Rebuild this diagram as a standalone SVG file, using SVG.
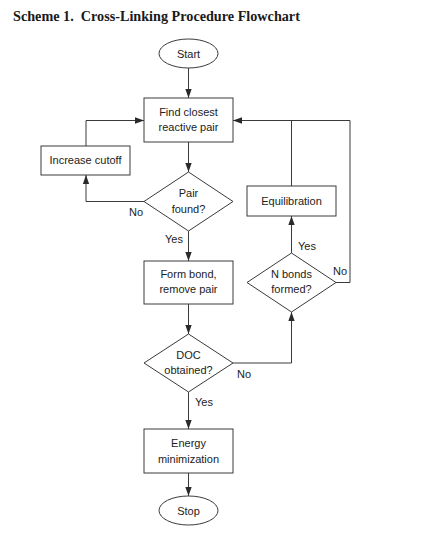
<svg xmlns="http://www.w3.org/2000/svg" width="424" height="535" viewBox="0 0 424 535">
<style>
.title{font-family:"Liberation Serif","Times New Roman",serif;font-weight:bold;font-size:14.2px;fill:#1a1a1a;white-space:pre}
.shape{fill:#fff;stroke:#3a3a3a;stroke-width:1}
.lbl{font-family:"Liberation Sans",Arial,sans-serif;font-size:11px;fill:#222;text-anchor:middle}
.edge{font-family:"Liberation Sans",Arial,sans-serif;font-size:11px;fill:#222}
.conn{fill:none;stroke:#3a3a3a;stroke-width:1}
</style>
<defs>
<marker id="ah" viewBox="0 0 10 10" refX="10" refY="5" markerWidth="9" markerHeight="9" markerUnits="userSpaceOnUse" orient="auto">
<path d="M0,1.5 L10,5 L0,8.5 Z" fill="#2a2a2a"/>
</marker>
</defs>
<rect width="424" height="535" fill="#fff"/>
<text class="title" x="13" y="21" xml:space="preserve">Scheme 1.  Cross-Linking Procedure Flowchart</text>

<g id="connectors">
<line class="conn" x1="188.5" y1="68" x2="188.5" y2="98" marker-end="url(#ah)"/>
<line class="conn" x1="188.5" y1="142" x2="188.5" y2="172" marker-end="url(#ah)"/>
<polyline class="conn" points="86,146 86,120.5 144,120.5" marker-end="url(#ah)"/>
<polyline class="conn" points="144,201.5 86,201.5 86,175" marker-end="url(#ah)"/>
<line class="conn" x1="188.5" y1="231" x2="188.5" y2="261" marker-end="url(#ah)"/>
<line class="conn" x1="188.5" y1="304" x2="188.5" y2="334" marker-end="url(#ah)"/>
<polyline class="conn" points="233,363 291.5,363 291.5,312" marker-end="url(#ah)"/>
<line class="conn" x1="291.5" y1="253" x2="291.5" y2="216" marker-end="url(#ah)"/>
<polyline class="conn" points="291.5,186 291.5,120.5"/>
<polyline class="conn" points="336,282.5 350,282.5 350,120.5 233,120.5" marker-end="url(#ah)"/>
<line class="conn" x1="188.5" y1="392" x2="188.5" y2="429" marker-end="url(#ah)"/>
<line class="conn" x1="188.5" y1="473" x2="188.5" y2="496" marker-end="url(#ah)"/>
<text class="edge" x="129" y="216">No</text>
<text class="edge" x="165" y="243">Yes</text>
<text class="edge" x="298" y="250">Yes</text>
<text class="edge" x="333" y="275">No</text>
<text class="edge" x="237" y="378">No</text>
<text class="edge" x="195" y="406">Yes</text>
</g>

<g id="start">
<ellipse class="shape" cx="188.5" cy="53.5" rx="29.5" ry="14.5"/>
<text class="lbl" x="188.5" y="57.5">Start</text>
</g>
<g id="find">
<rect class="shape" x="144" y="98" width="89" height="44"/>
<text class="lbl" x="188.5" y="116">Find closest</text>
<text class="lbl" x="188.5" y="131">reactive pair</text>
</g>
<g id="increase">
<rect class="shape" x="41" y="146" width="89" height="29"/>
<text class="lbl" x="85.5" y="164">Increase cutoff</text>
</g>
<g id="pairfound">
<polygon class="shape" points="188.5,172 233,201.5 188.5,231 144,201.5"/>
<text class="lbl" x="188.5" y="197">Pair</text>
<text class="lbl" x="188.5" y="213">found?</text>
</g>
<g id="equil">
<rect class="shape" x="247" y="186" width="89" height="30"/>
<text class="lbl" x="291.5" y="205">Equilibration</text>
</g>
<g id="nbonds">
<polygon class="shape" points="291.5,253 336,282.5 291.5,312 247,282.5"/>
<text class="lbl" x="291.5" y="278">N bonds</text>
<text class="lbl" x="291.5" y="293">formed?</text>
</g>
<g id="formbond">
<rect class="shape" x="144" y="261" width="89" height="43"/>
<text class="lbl" x="188.5" y="278">Form bond,</text>
<text class="lbl" x="188.5" y="293">remove pair</text>
</g>
<g id="doc">
<polygon class="shape" points="188.5,334 233,363 188.5,392 144,363"/>
<text class="lbl" x="188.5" y="359">DOC</text>
<text class="lbl" x="188.5" y="374">obtained?</text>
</g>
<g id="energy">
<rect class="shape" x="144" y="429" width="89" height="44"/>
<text class="lbl" x="188.5" y="447">Energy</text>
<text class="lbl" x="188.5" y="463">minimization</text>
</g>
<g id="stop">
<ellipse class="shape" cx="188.5" cy="510.5" rx="29.5" ry="14.5"/>
<text class="lbl" x="188.5" y="514.5">Stop</text>
</g>
</svg>
